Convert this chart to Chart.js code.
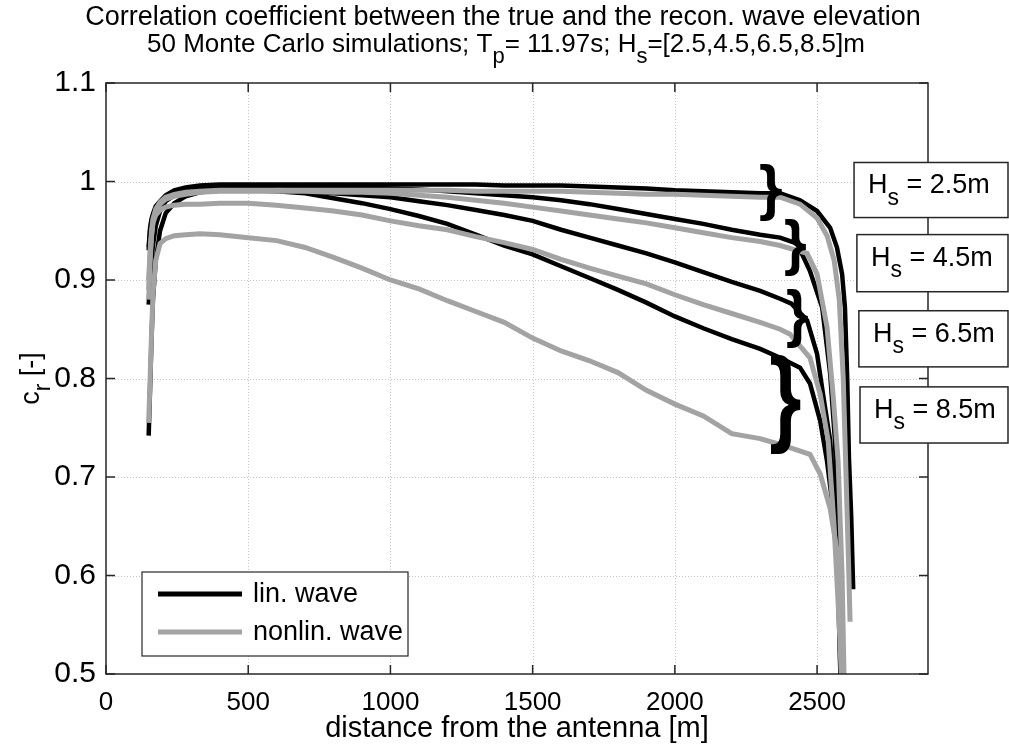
<!DOCTYPE html>
<html lang="en">
<head>
<meta charset="UTF-8">
<title>Correlation coefficient - true vs. reconstructed wave elevation</title>
<script src="https://cdn.jsdelivr.net/npm/chart.js"></script>
<style>
  html, body { margin: 0; padding: 0; background: #fff; }
  canvas { display: block; }
</style>
</head>
<body>
<canvas id="corrChart" width="1009" height="749"></canvas>
<script>
// distance from the antenna [m], shared by all curves up to 2370 m
const DIST = [150, 155, 160, 165, 175, 190, 210, 240, 280, 330, 400, 500, 600, 700, 800, 900,
              1000, 1100, 1200, 1300, 1400, 1500, 1600, 1700, 1800, 1900, 2000, 2100, 2200, 2300, 2370];

// correlation coefficient c_r, linear wave model
const LIN_25 = [0.933, 0.953, 0.962, 0.967, 0.975, 0.980, 0.986, 0.991, 0.994, 0.996, 0.997, 0.997, 0.997, 0.997, 0.997, 0.997,
                0.997, 0.997, 0.997, 0.997, 0.996, 0.996, 0.996, 0.995, 0.994, 0.993, 0.991, 0.990, 0.989, 0.988, 0.988];
const LIN_45 = [0.930, 0.950, 0.960, 0.965, 0.972, 0.978, 0.984, 0.989, 0.993, 0.995, 0.996, 0.996, 0.996, 0.995, 0.995, 0.994,
                0.993, 0.992, 0.990, 0.988, 0.986, 0.984, 0.981, 0.977, 0.972, 0.967, 0.962, 0.957, 0.951, 0.946, 0.943];
const LIN_65 = [0.875, 0.900, 0.920, 0.935, 0.955, 0.970, 0.980, 0.986, 0.990, 0.993, 0.994, 0.994, 0.992, 0.990, 0.988, 0.986,
                0.984, 0.980, 0.976, 0.971, 0.966, 0.960, 0.951, 0.943, 0.935, 0.927, 0.918, 0.908, 0.898, 0.889, 0.881];
const LIN_85 = [0.742, 0.790, 0.840, 0.880, 0.920, 0.950, 0.968, 0.978, 0.985, 0.989, 0.991, 0.991, 0.990, 0.988, 0.983, 0.978,
                0.972, 0.965, 0.957, 0.946, 0.935, 0.926, 0.914, 0.902, 0.890, 0.877, 0.863, 0.851, 0.840, 0.830, 0.821];

// correlation coefficient c_r, nonlinear wave model
const NONLIN_25 = [0.900, 0.930, 0.950, 0.962, 0.972, 0.979, 0.984, 0.987, 0.989, 0.990, 0.991, 0.991, 0.991, 0.991, 0.991, 0.991,
                   0.991, 0.991, 0.991, 0.990, 0.990, 0.990, 0.990, 0.989, 0.988, 0.987, 0.987, 0.986, 0.985, 0.984, 0.984];
const NONLIN_45 = [0.890, 0.925, 0.945, 0.958, 0.970, 0.977, 0.982, 0.985, 0.987, 0.989, 0.990, 0.990, 0.990, 0.990, 0.989, 0.989,
                   0.988, 0.986, 0.984, 0.981, 0.978, 0.974, 0.970, 0.966, 0.962, 0.958, 0.953, 0.948, 0.943, 0.939, 0.935];
const NONLIN_65 = [0.880, 0.920, 0.945, 0.958, 0.966, 0.971, 0.974, 0.976, 0.977, 0.977, 0.978, 0.978, 0.976, 0.973, 0.970, 0.966,
                   0.960, 0.955, 0.951, 0.944, 0.938, 0.931, 0.921, 0.912, 0.904, 0.896, 0.885, 0.875, 0.866, 0.857, 0.850];
const NONLIN_85 = [0.755, 0.800, 0.845, 0.885, 0.920, 0.937, 0.942, 0.945, 0.946, 0.947, 0.946, 0.943, 0.940, 0.933, 0.923, 0.912,
                   0.900, 0.891, 0.879, 0.868, 0.857, 0.841, 0.828, 0.818, 0.806, 0.788, 0.774, 0.762, 0.744, 0.739, 0.733];

// drop-off at the far end of the range: [distance, c_r]
const TAIL_LIN_25 = [[2440, 0.981], [2500, 0.970], [2546, 0.953], [2570, 0.933], [2588, 0.906], [2598, 0.872], [2606, 0.80], [2612, 0.72], [2620, 0.66], [2627, 0.586]];
const TAIL_LIN_45 = [[2430, 0.937], [2475, 0.909], [2518, 0.872], [2546, 0.805], [2563, 0.737], [2575, 0.62], [2585, 0.45]];
const TAIL_LIN_65 = [[2410, 0.876], [2465, 0.859], [2500, 0.825], [2521, 0.784], [2546, 0.737], [2567, 0.65], [2580, 0.55], [2590, 0.45]];
const TAIL_LIN_85 = [[2440, 0.811], [2475, 0.795], [2511, 0.757], [2535, 0.716], [2556, 0.668], [2570, 0.628], [2582, 0.50], [2586, 0.45]];
const TAIL_NONLIN_25 = [[2440, 0.977], [2500, 0.963], [2535, 0.945], [2560, 0.920], [2578, 0.880], [2592, 0.80], [2602, 0.70], [2610, 0.62], [2616, 0.553]];
const TAIL_NONLIN_45 = [[2465, 0.927], [2500, 0.906], [2535, 0.852], [2556, 0.784], [2574, 0.716], [2588, 0.60], [2598, 0.45]];
const TAIL_NONLIN_65 = [[2405, 0.845], [2475, 0.821], [2511, 0.784], [2539, 0.737], [2560, 0.65], [2578, 0.55], [2592, 0.45]];
const TAIL_NONLIN_85 = [[2475, 0.723], [2511, 0.703], [2546, 0.668], [2570, 0.625], [2581, 0.567], [2588, 0.50], [2592, 0.45]];

const X_MAX = 2890;
const Y_MIN = 0.5, Y_MAX = 1.1;
const X_TICKS = [0, 500, 1000, 1500, 2000, 2500];
const Y_TICKS = [0.5, 0.6, 0.7, 0.8, 0.9, 1.0, 1.1];

const HS_LABELS = ['2.5', '4.5', '6.5', '8.5'];
// label boxes right of the axes: [left distance, top c_r, bottom c_r]
const HS_BOXES = [[2630, 1.0193, 0.9634], [2640, 0.9461, 0.8881], [2647, 0.8688, 0.8118], [2651, 0.7915, 0.7345]];
// curly braces pairing lin./nonlin. curves: [left, right distance, top, bottom c_r]
const BRACES = [[2300, 2377, 1.0193, 0.9603], [2388, 2462, 0.9634, 0.9044], [2395, 2469, 0.8911, 0.8311], [2338, 2443, 0.8250, 0.7233]];

const BLACK = '#000000';
const GREY = '#a3a3a3';
const FONT = '"Liberation Sans", Arial, sans-serif';

const series = (ys, tail) => DIST.map((d, i) => ({ x: d, y: ys[i] })).concat(tail.map(p => ({ x: p[0], y: p[1] })));

const lineSet = (label, data, color, width) => ({
    label: label,
    data: data,
    borderColor: color,
    borderWidth: width,
    pointRadius: 0,
    tension: 0,
    fill: false,
    clip: 0
});

// index 0 is drawn last, so the grey curves sit on top
const datasets = [
    lineSet('nonlin. Hs=2.5', series(NONLIN_25, TAIL_NONLIN_25), GREY, 5),
    lineSet('nonlin. Hs=4.5', series(NONLIN_45, TAIL_NONLIN_45), GREY, 5),
    lineSet('nonlin. Hs=6.5', series(NONLIN_65, TAIL_NONLIN_65), GREY, 5),
    lineSet('nonlin. Hs=8.5', series(NONLIN_85, TAIL_NONLIN_85), GREY, 5),
    lineSet('lin. Hs=2.5', series(LIN_25, TAIL_LIN_25), BLACK, 4.5),
    lineSet('lin. Hs=4.5', series(LIN_45, TAIL_LIN_45), BLACK, 4.5),
    lineSet('lin. Hs=6.5', series(LIN_65, TAIL_LIN_65), BLACK, 4.5),
    lineSet('lin. Hs=8.5', series(LIN_85, TAIL_LIN_85), BLACK, 4.5)
];

// draws text with a lowered, smaller part: pieces = [[text, isSub], ...]
function drawSubText(ctx, pieces, x, y, size, align) {
    const widths = pieces.map(p => {
        ctx.font = (p[1] ? Math.round(size * 0.85) : size) + 'px ' + FONT;
        return ctx.measureText(p[0]).width;
    });
    const total = widths.reduce((a, b) => a + b, 0);
    let cx = align === 'center' ? x - total / 2 : x;
    ctx.textAlign = 'left';
    ctx.textBaseline = 'alphabetic';
    pieces.forEach((p, i) => {
        ctx.font = (p[1] ? Math.round(size * 0.85) : size) + 'px ' + FONT;
        ctx.fillText(p[0], cx, p[1] ? y + size * 0.42 : y);
        cx += widths[i];
    });
}

const frame = {
    id: 'frame',
    beforeDatasetsDraw(chart) {
        const { ctx, chartArea: a, scales: { x, y } } = chart;
        ctx.save();
        ctx.strokeStyle = '#c4c4c4';
        ctx.lineWidth = 1;
        ctx.setLineDash([1, 2]);
        X_TICKS.slice(1).forEach(v => {
            const px = Math.round(x.getPixelForValue(v)) + 0.5;
            ctx.beginPath(); ctx.moveTo(px, a.top); ctx.lineTo(px, a.bottom); ctx.stroke();
        });
        Y_TICKS.slice(1, -1).forEach(v => {
            const py = Math.round(y.getPixelForValue(v)) + 0.5;
            ctx.beginPath(); ctx.moveTo(a.left, py); ctx.lineTo(a.right, py); ctx.stroke();
        });
        ctx.restore();
    },
    afterDatasetsDraw(chart) {
        const { ctx, chartArea: a, scales: { x, y } } = chart;
        ctx.save();
        ctx.strokeStyle = '#262626';
        ctx.lineWidth = 1.5;
        ctx.strokeRect(a.left, a.top, a.right - a.left, a.bottom - a.top);
        const tl = 9;
        ctx.beginPath();
        X_TICKS.forEach(v => {
            const px = x.getPixelForValue(v);
            ctx.moveTo(px, a.bottom); ctx.lineTo(px, a.bottom - tl);
            ctx.moveTo(px, a.top); ctx.lineTo(px, a.top + tl);
        });
        Y_TICKS.forEach(v => {
            const py = y.getPixelForValue(v);
            ctx.moveTo(a.left, py); ctx.lineTo(a.left + tl, py);
            ctx.moveTo(a.right, py); ctx.lineTo(a.right - tl, py);
        });
        ctx.stroke();

        // legend
        const lx = a.left + 36, ly = a.top + 489, lw = 266, lh = 84;
        ctx.fillStyle = '#fff';
        ctx.fillRect(lx, ly, lw, lh);
        ctx.lineWidth = 1.2;
        ctx.strokeRect(lx, ly, lw, lh);
        [['lin. wave', BLACK, 22], ['nonlin. wave', GREY, 60]].forEach(e => {
            ctx.strokeStyle = e[1];
            ctx.lineWidth = 5;
            ctx.beginPath(); ctx.moveTo(lx + 16, ly + e[2]); ctx.lineTo(lx + 100, ly + e[2]); ctx.stroke();
            ctx.fillStyle = '#000';
            ctx.font = '27px ' + FONT;
            ctx.textBaseline = 'middle';
            ctx.textAlign = 'left';
            ctx.fillText(e[0], lx + 111, ly + e[2] + 1);
        });
        ctx.restore();
    },
    afterDraw(chart) {
        const { ctx, chartArea: a, scales: { x, y } } = chart;
        ctx.save();
        ctx.fillStyle = '#000';

        // title
        drawSubText(ctx, [['Correlation coefficient between the true and the recon. wave elevation', false]], 503, 25, 27, 'center');
        drawSubText(ctx, [['50 Monte Carlo simulations; T', false], ['p', true], ['= 11.97s; H', false], ['s', true], ['=[2.5,4.5,6.5,8.5]m', false]], 506, 52, 26, 'center');

        // y axis title
        ctx.save();
        ctx.translate(30, (a.top + a.bottom) / 2);
        ctx.rotate(-Math.PI / 2);
        drawSubText(ctx, [['c', false], ['r', true], [' [-]', false]], 0, 9, 27, 'center');
        ctx.restore();

        // braces
        ctx.font = 'bold 100px "Liberation Sans", sans-serif';
        const m = ctx.measureText('}');
        const gh = m.actualBoundingBoxAscent + m.actualBoundingBoxDescent;
        const gw = m.actualBoundingBoxLeft + m.actualBoundingBoxRight;
        BRACES.forEach(b => {
            const x0 = x.getPixelForValue(b[0]), x1 = x.getPixelForValue(b[1]);
            const y0 = y.getPixelForValue(b[2]), y1 = y.getPixelForValue(b[3]);
            ctx.save();
            ctx.translate(x0, y0);
            ctx.scale((x1 - x0) / gw, (y1 - y0) / gh);
            ctx.textAlign = 'left';
            ctx.textBaseline = 'alphabetic';
            ctx.fillText('}', m.actualBoundingBoxLeft, m.actualBoundingBoxAscent);
            ctx.restore();
        });

        // H_s label boxes
        HS_BOXES.forEach((bx, i) => {
            const left = x.getPixelForValue(bx[0]);
            const top = y.getPixelForValue(bx[1]);
            const bottom = y.getPixelForValue(bx[2]);
            const right = chart.width - 1;
            ctx.fillStyle = '#fff';
            ctx.fillRect(left, top, right - left, bottom - top);
            ctx.strokeStyle = '#262626';
            ctx.lineWidth = 1.5;
            ctx.strokeRect(left, top, right - left, bottom - top);
            ctx.fillStyle = '#000';
            drawSubText(ctx, [['H', false], ['s', true], [' = ' + HS_LABELS[i] + 'm', false]], left + 14, top + 31, 27, 'left');
        });
        ctx.restore();
    }
};

new Chart(document.getElementById('corrChart'), {
    type: 'line',
    data: { datasets: datasets },
    plugins: [frame],
    options: {
        responsive: false,
        animation: false,
        layout: { padding: { top: 83, right: 81, left: 0, bottom: 0 } },
        plugins: {
            legend: { display: false },
            title: { display: false },
            tooltip: { enabled: false }
        },
        scales: {
            x: {
                type: 'linear',
                min: 0,
                max: X_MAX,
                afterFit: s => { s.height = 75; },
                afterBuildTicks: s => { s.ticks = X_TICKS.map(v => ({ value: v })); },
                grid: { display: false, drawTicks: false },
                border: { display: false },
                ticks: {
                    color: '#000',
                    padding: 13,
                    maxRotation: 0,
                    font: { size: 26, family: FONT },
                    callback: v => String(v)
                },
                title: {
                    display: true,
                    text: 'distance from the antenna [m]',
                    color: '#000',
                    padding: { top: 2, bottom: 3 },
                    font: { size: 29, family: FONT }
                }
            },
            y: {
                type: 'linear',
                min: Y_MIN,
                max: Y_MAX,
                afterFit: s => { s.width = 106; },
                afterBuildTicks: s => { s.ticks = Y_TICKS.map(v => ({ value: v })); },
                grid: { display: false, drawTicks: false },
                border: { display: false },
                ticks: {
                    color: '#000',
                    padding: 10,
                    font: { size: 30, family: FONT },
                    callback: v => String(+v.toFixed(1))
                }
            }
        }
    }
});
</script>
</body>
</html>
